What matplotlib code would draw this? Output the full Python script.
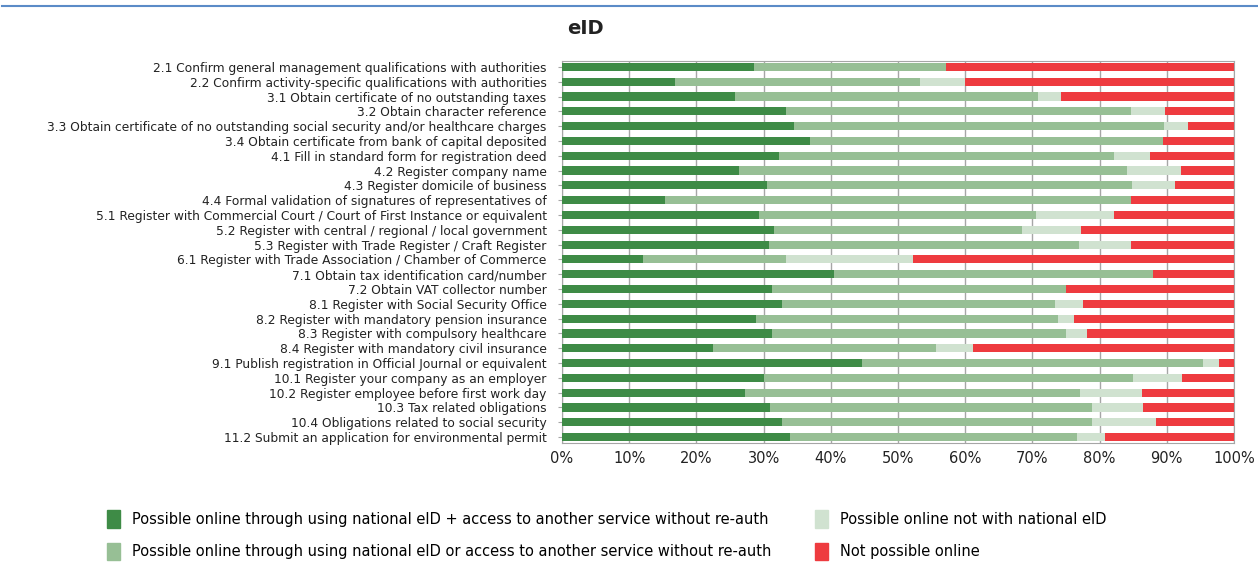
import numpy as np
import matplotlib
matplotlib.use("Agg")
from matplotlib import pyplot as plt
from matplotlib.lines import Line2D

# procedures (top to bottom)
procedures = [
    "2.1 Confirm general management qualifications with authorities",
    "2.2 Confirm activity-specific qualifications with authorities",
    "3.1 Obtain certificate of no outstanding taxes",
    "3.2 Obtain character reference",
    "3.3 Obtain certificate of no outstanding social security and/or healthcare charges",
    "3.4 Obtain certificate from bank of capital deposited",
    "4.1 Fill in standard form for registration deed",
    "4.2 Register company name",
    "4.3 Register domicile of business",
    "4.4 Formal validation of signatures of representatives of",
    "5.1 Register with Commercial Court / Court of First Instance or equivalent",
    "5.2 Register with central / regional / local government",
    "5.3 Register with Trade Register / Craft Register",
    "6.1 Register with Trade Association / Chamber of Commerce",
    "7.1 Obtain tax identification card/number",
    "7.2 Obtain VAT collector number",
    "8.1 Register with Social Security Office",
    "8.2 Register with mandatory pension insurance",
    "8.3 Register with compulsory healthcare",
    "8.4 Register with mandatory civil insurance",
    "9.1 Publish registration in Official Journal or equivalent",
    "10.1 Register your company as an employer",
    "10.2 Register employee before first work day",
    "10.3 Tax related obligations",
    "10.4 Obligations related to social security",
    "11.2 Submit an application for environmental permit",
]

# shares in %
eid_plus = [28.6, 16.8, 25.7, 33.4, 34.5, 36.9, 32.3, 26.4, 30.5, 15.3, 29.3, 31.6, 30.8,
            12.0, 40.5, 31.2, 32.7, 28.9, 31.3, 22.4, 44.6, 30.1, 27.2, 30.9, 32.7, 34.0]
eid_or = [28.5, 36.5, 45.1, 51.2, 55.1, 52.5, 49.9, 57.7, 54.3, 69.4, 41.3, 36.8, 46.1,
          21.4, 47.5, 43.8, 40.7, 44.9, 43.7, 33.3, 50.8, 54.8, 49.9, 47.9, 46.1, 42.6]
not_eid = [0.0, 6.7, 3.4, 5.1, 3.5, 0.0, 5.3, 8.0, 6.4, 0.0, 11.6, 8.8, 7.7,
           18.9, 0.0, 0.0, 4.2, 2.4, 3.1, 5.5, 2.3, 7.4, 9.2, 7.7, 9.6, 4.2]
not_online = [42.9, 40.0, 25.8, 10.3, 6.9, 10.6, 12.5, 7.9, 8.8, 15.3, 17.8, 22.8, 15.4,
              47.7, 12.0, 25.0, 22.4, 23.8, 21.9, 38.8, 2.3, 7.7, 13.7, 13.5, 11.6, 19.2]

series = [eid_plus, eid_or, not_eid, not_online]
labels = ["Possible online through using national eID + access to another service without re-auth",
          "Possible online through using national eID or access to another service without re-auth",
          "Possible online not with national eID",
          "Not possible online"]
colors = ["#3e8b46", "#97bf95", "#d0e2d0", "#ee3b3f"]

fig = plt.figure(figsize=(12.58, 5.63), dpi=100)
ax = fig.add_axes([562/1258, 1-443/563, 672/1258, 382/563])

y = np.arange(len(procedures))
left = np.zeros(len(procedures))
for vals, c in zip(series, colors):
    ax.barh(y, vals, left=left, height=0.55, color=c, zorder=3)
    left += np.array(vals)

ax.set_xlim(0, 100)
ax.set_ylim(len(procedures) - 0.6, -0.4)
ax.set_xticks(np.arange(0, 101, 10))
ax.set_xticklabels([f"{v}%" for v in range(0, 101, 10)], fontsize=10.5, color="#222222")
ax.set_yticks(y)
ax.set_yticklabels(procedures, fontsize=8.8, color="#222222")
ax.grid(axis="x", color="#a6a6a6", lw=1, zorder=0)
for s in ax.spines.values():
    s.set_color("#a6a6a6")
ax.tick_params(axis="y", length=3, color="#a6a6a6", pad=8)
ax.tick_params(axis="x", length=0, pad=6)

# header line and title
fig.add_artist(Line2D([2/1258, 1], [1-6/563, 1-6/563], color="#5b8bc7", lw=1.5))
fig.text(585/1258, 1-29/563, "eID", fontsize=14, fontweight="bold", ha="center", va="center",
         color="#222222")

handles = [plt.Rectangle((0, 0), 1, 1, color=c) for c in colors]
fig.legend(handles, labels, ncol=2, loc="upper left", bbox_to_anchor=(94/1258, 1-497/563),
           frameon=False, fontsize=10.5, handlelength=0.9, handleheight=1.5,
           handletextpad=0.8, columnspacing=3.0, labelspacing=1.0)

fig.savefig("out.png", dpi=100)
